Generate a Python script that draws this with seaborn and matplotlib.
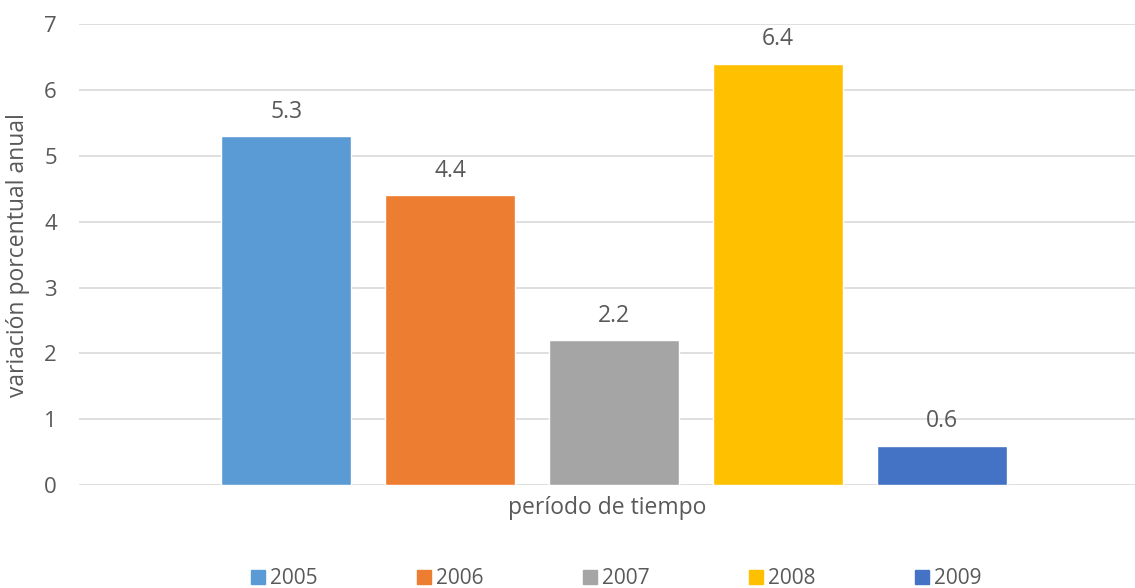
import pandas as pd
import matplotlib
matplotlib.use("Agg")
import matplotlib.pyplot as plt
import seaborn as sns

years = ["2005", "2006", "2007", "2008", "2009"]
values = [5.3, 4.4, 2.2, 6.4, 0.6]
colors = ["#5B9BD5", "#ED7D31", "#A5A5A5", "#FFC000", "#4472C4"]

df = pd.DataFrame({
    "periodo": ["período de tiempo"] * len(years),
    "year": years,
    "value": values
})

sns.set_style("white")
plt.rcParams["font.family"] = ["Open Sans", "DejaVu Sans"]
text_color = "#595959"

fig = plt.figure(figsize=(11.35, 5.88), dpi=100)
ax = fig.add_axes([0.0696, 0.175, 0.9304, 0.784])

sns.barplot(
    data=df,
    x="periodo",
    y="value",
    hue="year",
    palette=colors,
    width=0.8,
    gap=0.21,
    saturation=1,
    legend=False,
    ax=ax
)

for container in ax.containers:
    ax.bar_label(container, fmt="%.1f", padding=9, fontsize=16.5, color=text_color)

ax.set_ylim(0, 7)
ax.set_xlim(-0.522, 0.508)
ax.set_yticks(range(0, 8))
ax.yaxis.grid(True, color="#D9D9D9", linewidth=1.2)
ax.set_axisbelow(True)
ax.tick_params(axis="y", labelsize=16, colors=text_color, length=0, pad=16)
ax.set_xticks([])
ax.set_xlabel("período de tiempo", fontsize=16.5, color=text_color, labelpad=8)
ax.set_ylabel("variación porcentual anual", fontsize=16.5, color=text_color, labelpad=10)
sns.despine(ax=ax, left=True, bottom=True, top=True, right=True)

handles = [plt.Rectangle((0, 0), 1, 1, color=c) for c in colors]
fig.legend(
    handles,
    years,
    loc="lower center",
    bbox_to_anchor=(0.543, -0.034),
    ncol=5,
    frameon=False,
    fontsize=15,
    labelcolor=text_color,
    handlelength=0.68,
    handleheight=0.68,
    handletextpad=0.25,
    columnspacing=4.75
)

fig.savefig("out.png", dpi=100)
